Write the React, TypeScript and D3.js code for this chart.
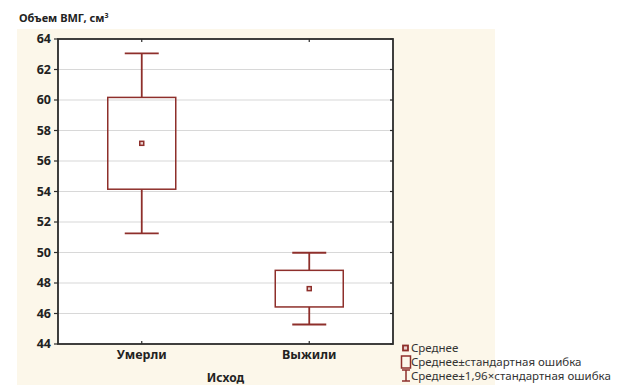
import React from 'react';
import * as d3 from 'd3';

// группы и значения (среднее, стандартная ошибка)
const groups = ['Умерли', 'Выжили'];
const means = [57.16, 47.63];
const stdErrors = [3.01, 1.2];
const yTicks = [44, 46, 48, 50, 52, 54, 56, 58, 60, 62, 64];
const legendLabels = ['Среднее', 'Среднее±стандартная ошибка', 'Среднее±1,96×стандартная ошибка'];

const W = 629;
const H = 385;
const margin = { top: 39, right: 236, bottom: 41, left: 58 };
const red = '#8e2f2b';
const axisColor = '#2b2b2b';
const font = "'Noto Sans', 'Open Sans', sans-serif";

const App = () => {
    const x = d3.scalePoint().domain(groups).range([margin.left, W - margin.right]).padding(0.5);
    const y = d3.scaleLinear().domain([44, 64]).range([H - margin.bottom, margin.top]);
    const left = margin.left;
    const right = W - margin.right;
    const top = margin.top;
    const bottom = H - margin.bottom;
    const boxW = 68;
    const capW = 34;

    return (
        <svg width={W} height={H} style={{ position: 'absolute', left: 0, top: 0 }}>
            <rect x={17} y={29} width={478} height={H - 29} fill="#fcf7ea" />
            <rect x={left} y={top} width={right - left} height={bottom - top} fill="#fff" />
            {yTicks.map((t) => (
                <g key={t}>
                    {t > 44 && t < 64 && (
                        <line x1={left} x2={right} y1={y(t)} y2={y(t)} stroke="#d8d8d8" strokeWidth={1.2} />
                    )}
                    <line x1={left - 4} x2={left} y1={y(t)} y2={y(t)} stroke={axisColor} strokeWidth={1.2} />
                    <line x1={right - 3} x2={right} y1={y(t)} y2={y(t)} stroke={axisColor} strokeWidth={1.2} />
                    <text x={left - 7} y={y(t)} dy="0.35em" textAnchor="end" fontFamily={font}
                        fontWeight="bold" fontSize={12.5} fill="#222">{t}</text>
                </g>
            ))}
            {groups.map((g, i) => {
                const cx = x(g) as number;
                const m = means[i];
                const se = stdErrors[i];
                const ci = 1.96 * se;
                return (
                    <g key={g}>
                        <line x1={cx} x2={cx} y1={bottom} y2={bottom - 3} stroke={axisColor} strokeWidth={1.2} />
                        <line x1={cx} x2={cx} y1={top} y2={top + 3} stroke={axisColor} strokeWidth={1.2} />
                        <line x1={cx} x2={cx} y1={y(m + ci)} y2={y(m + se)} stroke={red} strokeWidth={1.8} />
                        <line x1={cx} x2={cx} y1={y(m - se)} y2={y(m - ci)} stroke={red} strokeWidth={1.8} />
                        <line x1={cx - capW / 2} x2={cx + capW / 2} y1={y(m + ci)} y2={y(m + ci)} stroke={red} strokeWidth={1.8} />
                        <line x1={cx - capW / 2} x2={cx + capW / 2} y1={y(m - ci)} y2={y(m - ci)} stroke={red} strokeWidth={1.8} />
                        <rect x={cx - boxW / 2} y={y(m + se)} width={boxW} height={y(m - se) - y(m + se)}
                            fill="none" stroke={red} strokeWidth={1.5} />
                        <rect x={cx - 2} y={y(m) - 2} width={4} height={4} fill="#e9cfcc" stroke={red} strokeWidth={1.5} />
                        <text x={cx} y={355} dy="0.35em" textAnchor="middle" fontFamily={font}
                            fontWeight="bold" fontSize={12.5} fill="#222">{g}</text>
                    </g>
                );
            })}
            <rect x={left} y={top} width={right - left} height={bottom - top} fill="none" stroke={axisColor} strokeWidth={1.8} />
            <text x={(left + right) / 2} y={377.5} dy="0.35em" textAnchor="middle" fontFamily={font}
                fontWeight="bold" fontSize={12} fill="#222">Исход</text>
            <text x={19} y={22} fontFamily={font} fontWeight="bold" fontSize={11} fill="#222">
                Объем ВМГ, см<tspan fontSize={7} dy={-4}>3</tspan>
            </text>
            {/* легенда */}
            <g>
                <rect x={403} y={345.5} width={5} height={5} fill="#e9cfcc" stroke={red} strokeWidth={1.8} />
                <rect x={401.5} y={356} width={9} height={12} fill="none" stroke={red} strokeWidth={1.5} />
                <line x1={406} x2={406} y1={370} y2={381} stroke={red} strokeWidth={1.5} />
                <line x1={402} x2={410} y1={370} y2={370} stroke={red} strokeWidth={1.5} />
                <line x1={402} x2={410} y1={381} y2={381} stroke={red} strokeWidth={1.5} />
                {legendLabels.map((l, i) => (
                    <text key={l} x={411} y={348 + i * 14} dy="0.35em" fontFamily={font}
                        fontSize={11.5} fill="#333">{l}</text>
                ))}
            </g>
        </svg>
    );
};

export default App;
